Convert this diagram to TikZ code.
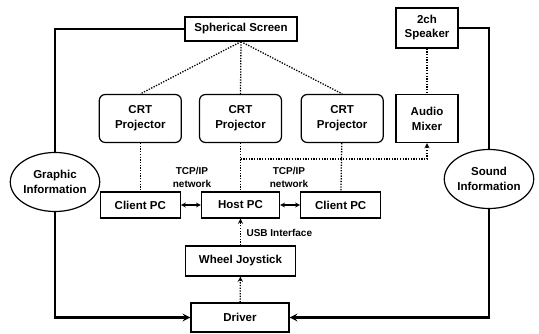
\documentclass[tikz,border=0pt]{standalone}
\usepackage{fontspec}
\setmainfont{Liberation Sans}
\usepackage{tikz}
\usetikzlibrary{shapes.geometric, arrows, positioning}
\tikzstyle{block} = [rectangle, draw=black, line width=1.2pt, text centered, align=center, font=\bfseries\fontsize{11.5}{14}\selectfont]
\tikzstyle{pc} = [block, minimum width=80pt, minimum height=26pt]
\tikzstyle{projector} = [block, rounded corners=6pt, minimum width=82pt, minimum height=48pt, font=\bfseries\fontsize{11.5}{15}\selectfont]
\tikzstyle{info} = [ellipse, draw=black, line width=1.2pt, minimum width=86pt, minimum height=59pt, inner sep=0pt, align=center, font=\bfseries\fontsize{11.5}{15}\selectfont]
\tikzstyle{note} = [align=center, font=\bfseries\fontsize{10}{13}\selectfont]
\tikzstyle{thickline} = [line width=2.4pt]
\tikzstyle{dotline} = [line width=1.3pt, dash pattern=on 1.3pt off 1.4pt]
\tikzstyle{arrow} = [->, >=stealth]
\tikzstyle{link} = [line width=1.2pt, <->, >=stealth]

\begin{document}
\begin{tikzpicture}[x=1pt, y=-1pt, node distance=20pt]
\useasboundingbox (0,0) rectangle (539,334);
\node (screen) [block, minimum width=112pt, minimum height=24pt] at (241,29) {Spherical Screen};
\node (speaker) [block, minimum width=62pt, minimum height=40pt] at (427,28) {2ch\\Speaker};
\node (crt2) [projector] at (240.5,118.5) {CRT\\Projector};
\node (crt1) [projector, left=17pt of crt2] {CRT\\Projector};
\node (crt3) [projector, right=18.5pt of crt2] {CRT\\Projector};
\node (mixer) [block, minimum width=62pt, minimum height=48pt, font=\bfseries\fontsize{11.5}{15}\selectfont] at (427,118.5) {Audio\\Mixer};
\node (host) [pc, minimum width=78pt] at (240.5,205) {Host PC};
\node (clientL) [pc, left=of host] {Client PC};
\node (clientR) [pc, right=of host] {Client PC};
\node (joystick) [block, minimum width=110pt, minimum height=30pt] at (240.5,261) {Wheel Joystick};
\node (driver) [block, minimum width=98pt, minimum height=29pt] at (240,317.5) {Driver};
\node (graphic) [info] at (55,182) {Graphic\\Information};
\node (sound) [info] at (489,179) {Sound\\Information};
\node (tcpL) [note] at (192,177) {TCP/IP\\network};
\node (tcpR) [note] at (289,177) {TCP/IP\\network};
\node (usb) [note, anchor=west] at (243,233) {USB Interface};
\coordinate (tap) at (240.5,159);

% graphic and sound paths
\draw [thickline] (screen.west) -| (graphic.north);
\draw [thickline, arrow] (graphic.south) |- (driver.west);
\draw [thickline] (speaker.east) -| (sound.north);
\draw [thickline, arrow] (sound.south) |- (driver.east);

% projection
\draw [dotline] (screen.south) -- (crt1.north);
\draw [dotline] (screen.south) -- (crt2.north);
\draw [dotline] (screen.south) -- (crt3.north);
\draw [dotline] (speaker) -- (mixer);
\draw [dotline] (crt1) -- (clientL);
\draw [dotline] (crt2) -- (host);
\draw [dotline] (crt3) -- (clientR);
\draw [dotline, arrow] (tap) -| (mixer.south);

% pc network and input
\draw [link] (clientL) -- (host);
\draw [link] (host) -- (clientR);
\draw [dotline, arrow] (joystick) -- (host);
\draw [dotline, arrow] (driver) -- (joystick);
\end{tikzpicture}
\end{document}
